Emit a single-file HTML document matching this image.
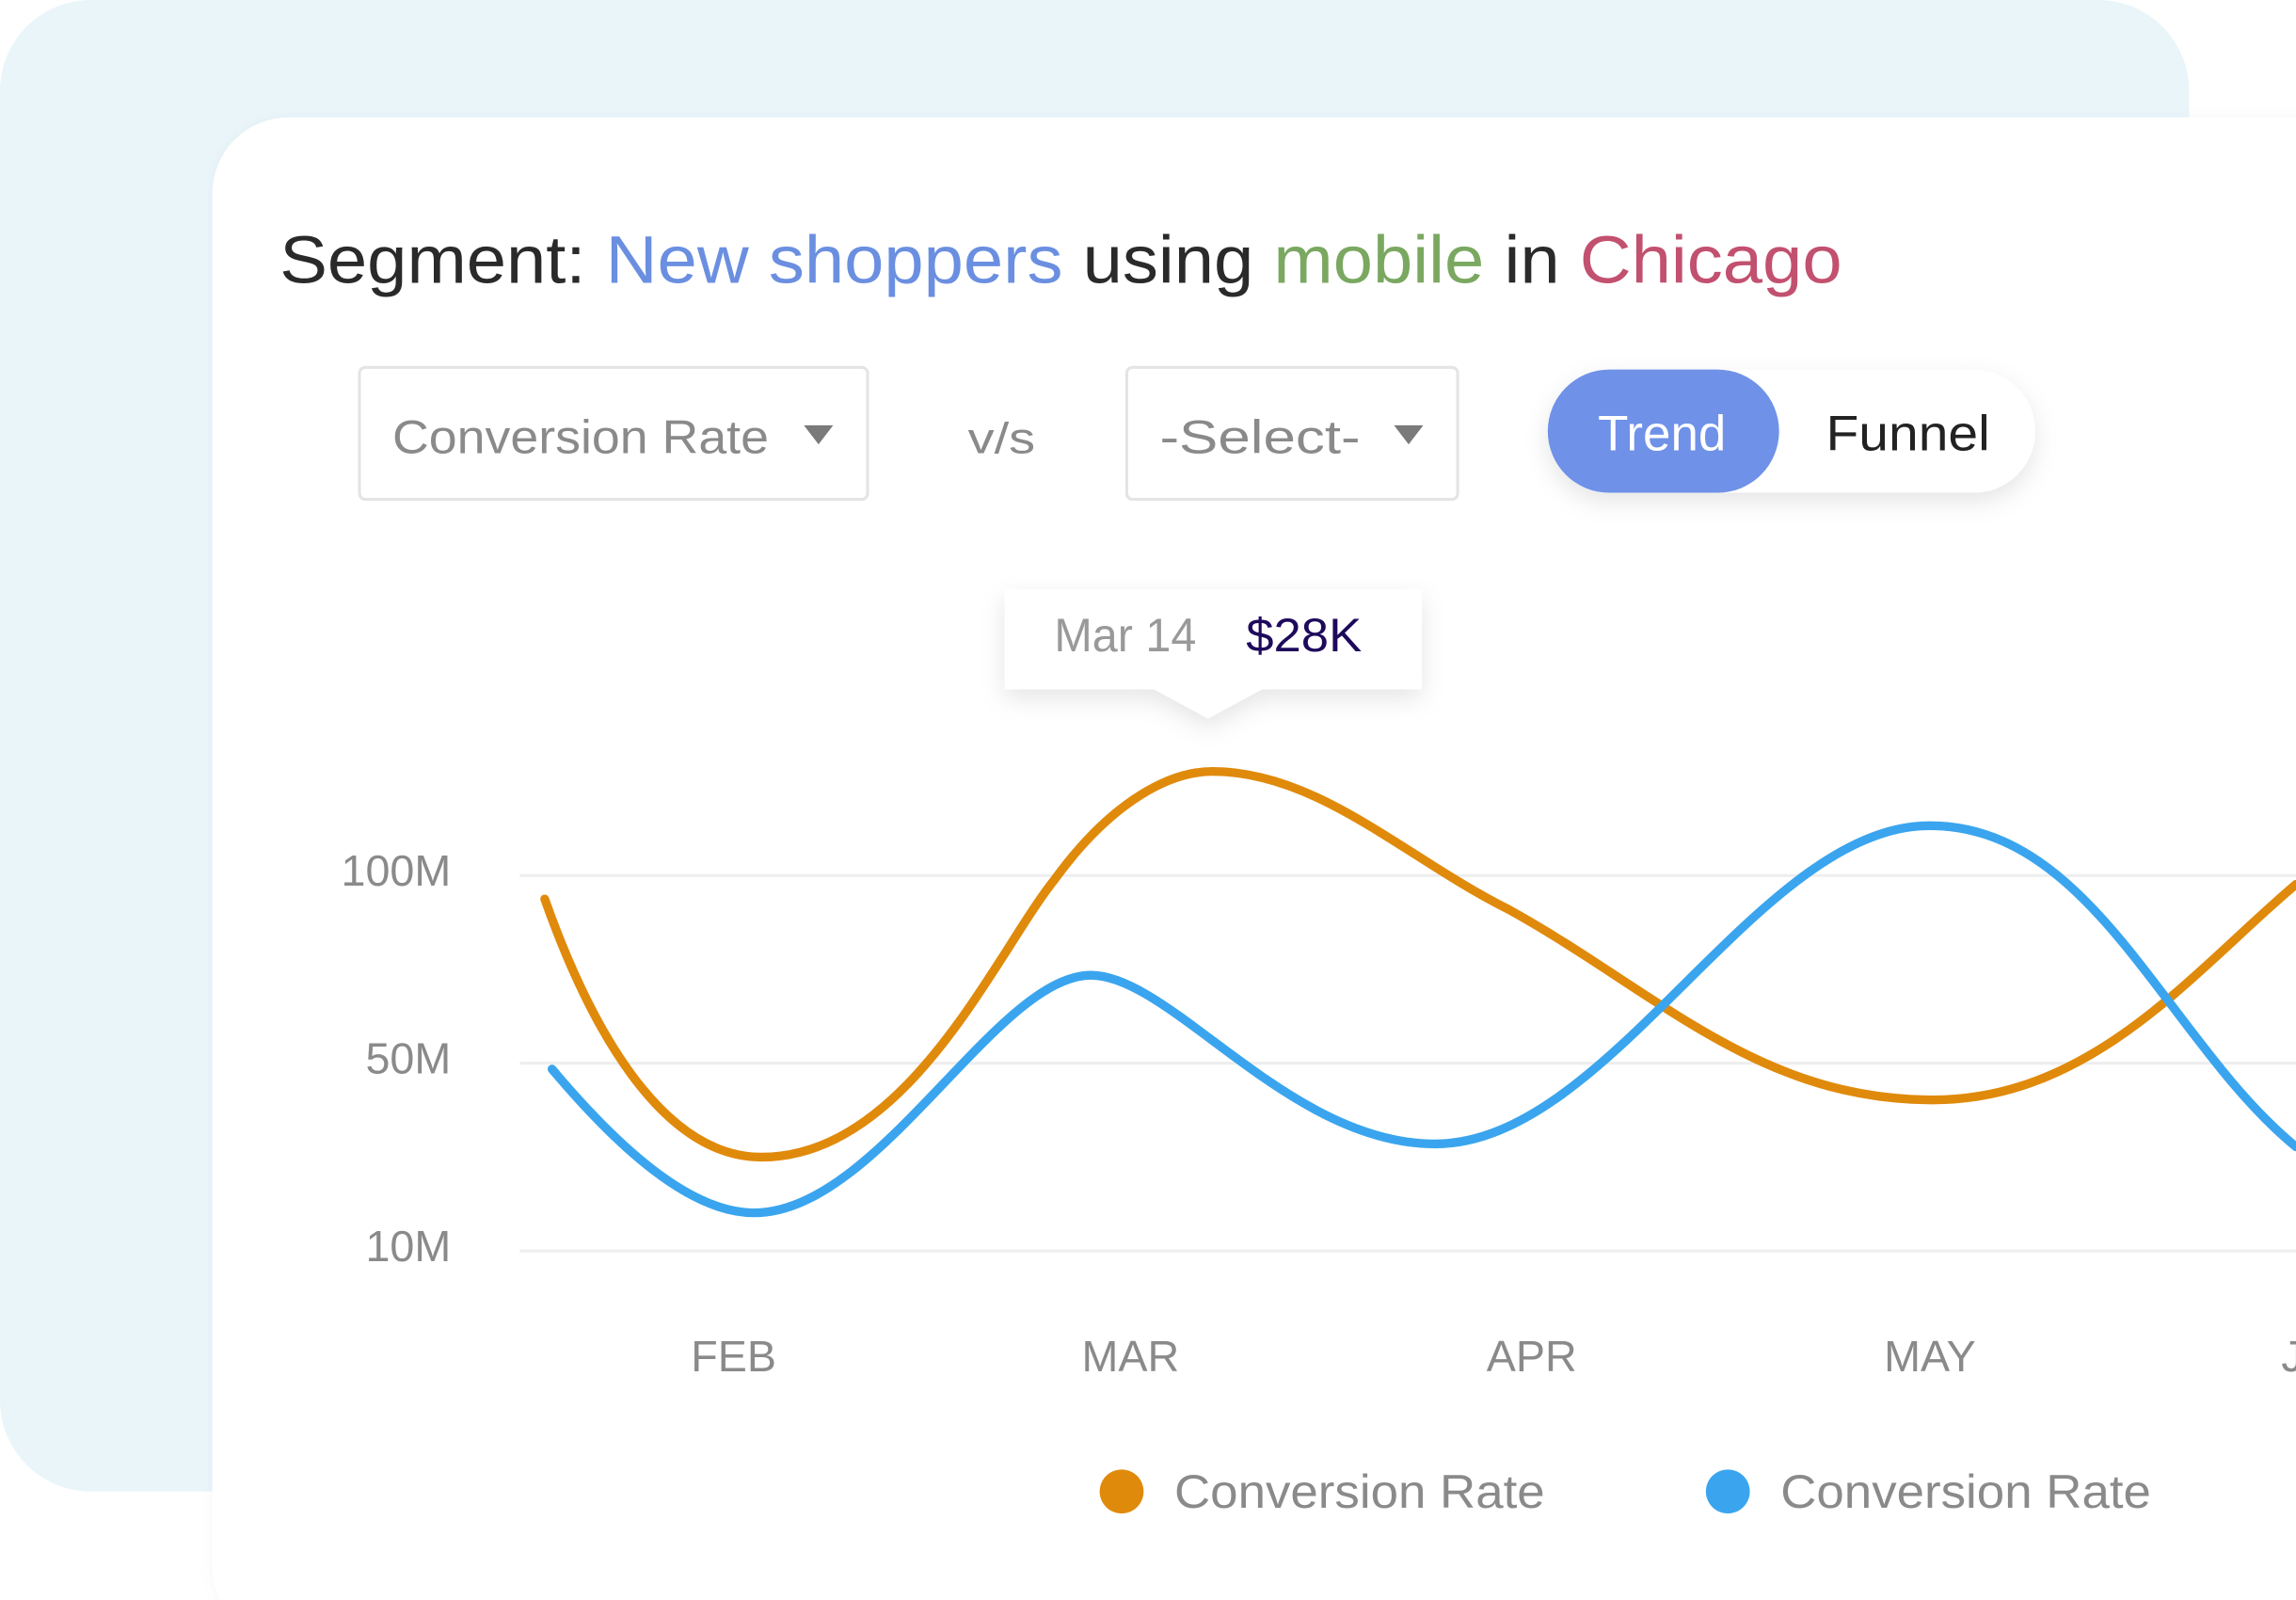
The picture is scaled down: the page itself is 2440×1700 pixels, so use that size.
<!DOCTYPE html>
<html><head><meta charset="utf-8"><style>
html,body{margin:0;padding:0;background:#fff;width:2440px;height:1700px;overflow:hidden}
svg{display:block}
text{font-family:"Liberation Sans",sans-serif}
</style></head><body>
<svg width="2440" height="1700" viewBox="0 0 1568 1091" preserveAspectRatio="none" xmlns="http://www.w3.org/2000/svg">
<defs>
<filter id="sh" x="-20%" y="-40%" width="140%" height="200%"><feDropShadow dx="0" dy="6" stdDeviation="8" flood-color="#000" flood-opacity="0.10"/></filter>
<filter id="sh2" x="-5%" y="-5%" width="110%" height="110%"><feDropShadow dx="0" dy="0" stdDeviation="4" flood-color="#9bb" flood-opacity="0.12"/></filter>
</defs>
<rect x="0" y="0" width="1568" height="1091" fill="#fff"/>
<rect x="0" y="0" width="1495" height="1017" rx="62" fill="#eaf5fa"/>
<rect x="145" y="80" width="1480" height="1040" rx="52" fill="#fff" filter="url(#sh2)"/>

<text x="191" y="193" font-size="46" fill="#2a2a2a" textLength="1067" lengthAdjust="spacingAndGlyphs">Segment: <tspan fill="#6b8fe0">New shoppers</tspan> using <tspan fill="#7aa860">mobile</tspan> in <tspan fill="#c2506f">Chicago</tspan></text>

<rect x="245.5" y="250.5" width="347" height="90" rx="4" fill="#fff" stroke="#e4e4e4" stroke-width="2"/>
<text x="268" y="309" font-size="32" fill="#8a8a8a" textLength="257" lengthAdjust="spacingAndGlyphs">Conversion Rate</text>
<path d="M549,290 L569,290 L559,303 Z" fill="#7a7a7a"/>
<text x="661" y="309" font-size="30" fill="#8a8a8a" textLength="46" lengthAdjust="spacingAndGlyphs">v/s</text>
<rect x="769.5" y="250.5" width="226" height="90" rx="4" fill="#fff" stroke="#e4e4e4" stroke-width="2"/>
<text x="792" y="309" font-size="32" fill="#8a8a8a" textLength="137" lengthAdjust="spacingAndGlyphs">-Select-</text>
<path d="M952,290 L972,290 L962,303 Z" fill="#7a7a7a"/>

<rect x="1057" y="252" width="333" height="84" rx="42" fill="#fff" filter="url(#sh)"/>
<rect x="1057" y="252" width="158" height="84" rx="42" fill="#6f91e8"/>
<text x="1135" y="307" font-size="34" fill="#fff" text-anchor="middle">Trend</text>
<text x="1247" y="307" font-size="34" fill="#222" textLength="112" lengthAdjust="spacingAndGlyphs">Funnel</text>

<path d="M686,402 H971 V470 H862 L825,490 L788,470 H686 Z" fill="#fff" filter="url(#sh)"/>
<text x="720" y="444" font-size="32" fill="#999" textLength="97" lengthAdjust="spacingAndGlyphs">Mar 14</text>
<text x="851" y="444" font-size="32" fill="#1e0a5c" textLength="79" lengthAdjust="spacingAndGlyphs">$28K</text>

<g stroke="#eeeeee" stroke-width="2">
<line x1="355" y1="597" x2="1568" y2="597"/>
<line x1="355" y1="725" x2="1568" y2="725"/>
<line x1="355" y1="853" x2="1568" y2="853"/>
</g>
<g font-size="30" fill="#8a8a8a" text-anchor="end">
<text x="308" y="604">100M</text>
<text x="308" y="732">50M</text>
<text x="308" y="860">10M</text>
</g>
<g font-size="30" fill="#8a8a8a" text-anchor="middle">
<text x="501" y="935">FEB</text>
<text x="772" y="935">MAR</text>
<text x="1046" y="935">APR</text>
<text x="1318" y="935">MAY</text>
</g>
<text x="1558" y="935" font-size="30" fill="#8a8a8a">JUN</text>

<path d="M372,613 C410,720 460,789 520,789 C620,789 680,650 720,600 C760,545 800,526 828,526 C900,526 960,585 1030,620 C1130,675 1200,750 1320,750 C1430,750 1500,660 1568,603" fill="none" stroke="#e08a0b" stroke-width="6" stroke-linecap="round"/>
<path d="M377,729 C420,780 470,827 515,827 C600,827 680,665 745,665 C800,665 880,780 980,780 C1100,780 1200,563 1318,563 C1430,563 1480,710 1568,782" fill="none" stroke="#3aa5ee" stroke-width="6" stroke-linecap="round"/>

<circle cx="766" cy="1017" r="15" fill="#e08a0b"/>
<text x="802" y="1028" font-size="32" fill="#8a8a8a" textLength="253" lengthAdjust="spacingAndGlyphs">Conversion Rate</text>
<circle cx="1180" cy="1017" r="15" fill="#3aa5ee"/>
<text x="1216" y="1028" font-size="32" fill="#8a8a8a" textLength="253" lengthAdjust="spacingAndGlyphs">Conversion Rate</text>
</svg>
</body></html>
